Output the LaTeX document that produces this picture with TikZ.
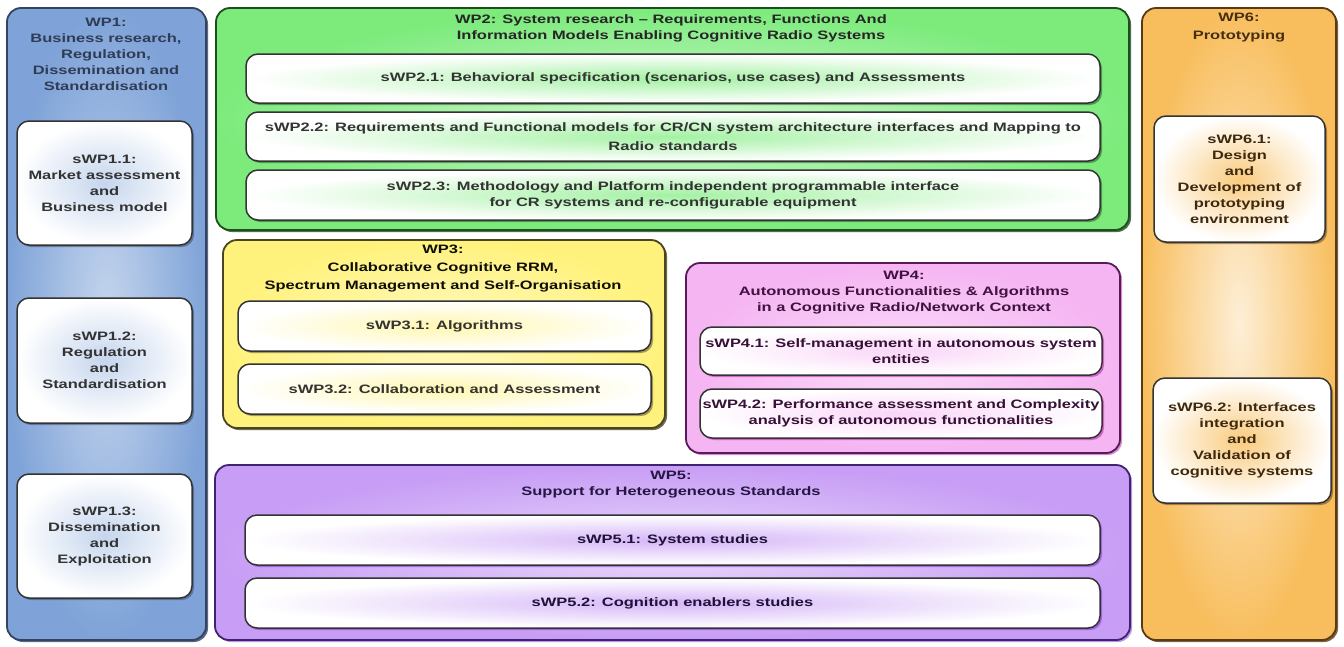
\documentclass[tikz,border=0pt]{standalone}
\usepackage{fontspec}
\setmainfont[FakeStretch=1.35]{Liberation Sans}
\usetikzlibrary{shadows}
\definecolor{wpa}{HTML}{7FA3D8}\definecolor{wpad}{HTML}{34435F}
\definecolor{wpb}{HTML}{7CEB7C}\definecolor{wpbd}{HTML}{1E4D1E}
\definecolor{wpc}{HTML}{FFF27C}\definecolor{wpcd}{HTML}{4A4420}
\definecolor{wpe}{HTML}{F5B4F2}\definecolor{wped}{HTML}{5A1A5A}\definecolor{wpes}{HTML}{B0169E}
\definecolor{wpf}{HTML}{C79DF5}\definecolor{wpfd}{HTML}{3E2470}\definecolor{wpfs}{HTML}{7A2BC8}
\definecolor{wpg}{HTML}{F8BE5E}\definecolor{wpgd}{HTML}{5A3A14}
\begin{document}
\begin{tikzpicture}[x=1pt,y=-1pt,
  font=\fontsize{12.2}{16}\selectfont\bfseries,
  wpbox/.style={rounded corners=14pt, line width=1.8pt, shading=radial, inner sep=0pt, outer sep=0pt},
  subbox/.style={rounded corners=12pt, draw=black!80, line width=1.5pt, shading=radial,
     outer color=white, inner sep=1pt, align=center, text=black!80},
  ttl/.style={align=center, inner sep=0pt}
]
\useasboundingbox[fill=white] (0,0) rectangle (1344,646);
% WP1
\node (wp1) [wpbox, draw=wpad, inner color=wpa!45!white, outer color=wpa,
  drop shadow={shadow xshift=2pt, shadow yshift=-2pt, fill=wpad, opacity=0.8},
  minimum width=199pt, minimum height=632pt] at (106.5,324) {};
\node (wp1t) [ttl, text=wpad!90!black] at (106,54) {WP1:\\Business research,\\Regulation,\\Dissemination and\\Standardisation};
\node (s11) [subbox, inner color=wpa!45!white, drop shadow={shadow xshift=2pt, shadow yshift=-2pt, fill=wpad},
  minimum width=175pt, minimum height=124pt] at (104.5,183) {sWP1.1:\\Market assessment\\and\\Business model};
\node (s12) [subbox, inner color=wpa!45!white, drop shadow={shadow xshift=2pt, shadow yshift=-2pt, fill=wpad},
  minimum width=175pt, minimum height=125pt] at (104.5,360.5) {sWP1.2:\\Regulation\\and\\Standardisation};
\node (s13) [subbox, inner color=wpa!45!white, drop shadow={shadow xshift=2pt, shadow yshift=-2pt, fill=wpad},
  minimum width=175pt, minimum height=124pt] at (104.5,536) {sWP1.3:\\Dissemination\\and\\Exploitation};
% WP2
\node (wp2) [wpbox, draw=wpbd, inner color=wpb!35!white, outer color=wpb,
  drop shadow={shadow xshift=2pt, shadow yshift=-2pt, fill=wpbd, opacity=0.8},
  minimum width=913pt, minimum height=222pt] at (672.5,119) {};
\node (wp2t) [ttl, text=black!85] at (671,28) {WP2: System research -- Requirements, Functions And\\Information Models Enabling Cognitive Radio Systems};
\node (s21) [subbox, inner color=wpb!70!white, drop shadow={shadow xshift=2pt, shadow yshift=-2pt, fill=wpbd},
  minimum width=854pt, minimum height=49pt] at (673,78.5) {sWP2.1: Behavioral specification (scenarios, use cases) and Assessments};
\node (s22) [subbox, inner color=wpb!70!white, drop shadow={shadow xshift=2pt, shadow yshift=-2pt, fill=wpbd},
  minimum width=854pt, minimum height=49pt, font=\fontsize{12.2}{19}\selectfont\bfseries] at (673,136.5) {sWP2.2: Requirements and Functional models for CR/CN system architecture interfaces and Mapping to\\Radio standards};
\node (s23) [subbox, inner color=wpb!70!white, drop shadow={shadow xshift=2pt, shadow yshift=-2pt, fill=wpbd},
  minimum width=854pt, minimum height=50pt] at (673,195) {sWP2.3: Methodology and Platform independent programmable interface\\for CR systems and re-configurable equipment};
% WP3
\node (wp3) [wpbox, draw=wpcd, inner color=wpc!45!white, outer color=wpc,
  drop shadow={shadow xshift=2pt, shadow yshift=-2pt, fill=wpcd, opacity=0.8},
  minimum width=442pt, minimum height=188pt] at (444,334) {};
\node (wp3t) [ttl, text=black!80!wpcd, font=\fontsize{12.2}{18}\selectfont\bfseries] at (443,269) {WP3:\\Collaborative Cognitive RRM,\\Spectrum Management and Self-Organisation};
\node (s31) [subbox, inner color=wpc!60!white, drop shadow={shadow xshift=2pt, shadow yshift=-2pt, fill=wpcd},
  minimum width=413pt, minimum height=50pt] at (444.5,326) {sWP3.1: Algorithms};
\node (s32) [subbox, inner color=wpc!60!white, drop shadow={shadow xshift=2pt, shadow yshift=-2pt, fill=wpcd},
  minimum width=413pt, minimum height=50pt] at (444.5,389) {sWP3.2: Collaboration and Assessment};
% WP4
\node (wp4) [wpbox, draw=wped, inner color=wpe!45!white, outer color=wpe,
  drop shadow={shadow xshift=2pt, shadow yshift=-2pt, fill=wpes},
  minimum width=434pt, minimum height=190pt] at (903,358) {};
\node (wp4t) [ttl, text=wped!70!black] at (904,293) {WP4:\\Autonomous Functionalities \& Algorithms\\in a Cognitive Radio/Network Context};
\node (s41) [subbox, inner color=wpe!55!white, text=wped!60!black, drop shadow={shadow xshift=2pt, shadow yshift=-2pt, fill=wpes},
  minimum width=402pt, minimum height=48pt] at (901,351) {sWP4.1: Self-management in autonomous system\\entities};
\node (s42) [subbox, inner color=wpe!55!white, text=wped!60!black, drop shadow={shadow xshift=2pt, shadow yshift=-2pt, fill=wpes},
  minimum width=402pt, minimum height=49pt] at (901,413.5) {sWP4.2: Performance assessment and Complexity\\analysis of autonomous functionalities};
% WP5
\node (wp5) [wpbox, draw=wpfd, inner color=wpf!40!white, outer color=wpf,
  drop shadow={shadow xshift=2pt, shadow yshift=-2pt, fill=wpfs},
  minimum width=915pt, minimum height=175pt] at (672.5,552.5) {};
\node (wp5t) [ttl, text=wpfd!60!black] at (671,485) {WP5:\\Support for Heterogeneous Standards};
\node (s51) [subbox, inner color=wpf!75!white, text=wpfd!50!black,
  drop shadow={shadow xshift=2pt, shadow yshift=-2pt, fill=wpfs},
  minimum width=855pt, minimum height=50pt] at (672.5,540) {sWP5.1: System studies};
\node (s52) [subbox, inner color=wpf!75!white, text=wpfd!50!black,
  drop shadow={shadow xshift=2pt, shadow yshift=-2pt, fill=wpfs},
  minimum width=855pt, minimum height=50pt] at (672.5,603) {sWP5.2: Cognition enablers studies};
% WP6
\node (wp6) [wpbox, draw=wpgd, inner color=wpg!25!white, outer color=wpg,
  drop shadow={shadow xshift=2pt, shadow yshift=-2pt, fill=wpgd, opacity=0.8},
  minimum width=194pt, minimum height=632pt] at (1239,324) {};
\node (wp6t) [ttl, text=wpgd!80!black, font=\fontsize{12.2}{18}\selectfont\bfseries] at (1239,28) {WP6:\\Prototyping};
\node (s61) [subbox, inner color=wpg!80!white, text=wpgd!70!black, drop shadow={shadow xshift=2pt, shadow yshift=-2pt, fill=wpgd},
  minimum width=171pt, minimum height=126pt] at (1239.5,179) {sWP6.1:\\Design\\and\\Development of\\prototyping\\environment};
\node (s62) [subbox, inner color=wpg!80!white, text=wpgd!70!black, drop shadow={shadow xshift=2pt, shadow yshift=-2pt, fill=wpgd},
  minimum width=178pt, minimum height=125pt] at (1242,440.5) {sWP6.2: Interfaces\\integration\\and\\Validation of\\cognitive systems};
\end{tikzpicture}
\end{document}
